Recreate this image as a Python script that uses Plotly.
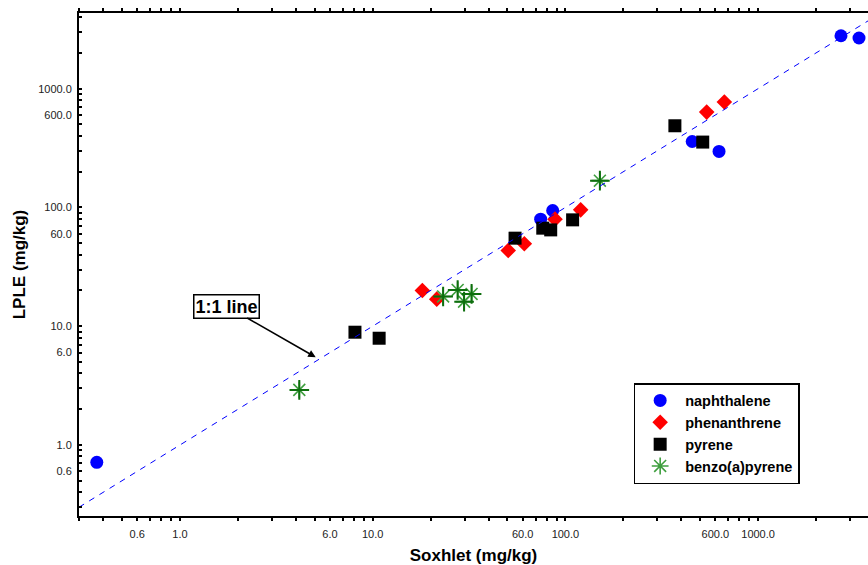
import plotly.graph_objects as go

# ---- data (mg/kg) ----
naph_sox = [0.370, 74.4, 85.9, 455, 627, 2692, 3339]
naph_lple = [0.715, 79.7, 94.2, 359, 296, 2790, 2669]

phen_sox = [18.1, 21.5, 50.5, 61.2, 88.3, 120, 541, 668]
phen_lple = [20.0, 16.9, 43.4, 49.4, 79.7, 95.4, 635, 771]

pyr_sox = [8.09, 10.8, 54.8, 76.3, 83.9, 109, 370, 516]
pyr_lple = [8.90, 7.92, 55.1, 66.9, 64.7, 78.6, 487, 355]

bap_sox = [4.16, 23.2, 27.6, 32.6, 29.8, 151]
bap_lple = [2.91, 17.8, 20.2, 18.7, 16.1, 168]

line_vals = [0.299, 3720]   # 1:1 line endpoints

series_names = ["naphthalene", "phenanthrene", "pyrene", "benzo(a)pyrene"]

tick_vals = [0.6, 1, 6, 10, 60, 100, 600, 1000]
tick_text = ["0.6", "1.0", "6.0", "10.0", "60.0", "100.0", "600.0", "1000.0"]

x_range = [-0.5241, 3.5703]
y_range = [-0.598, 3.637]

minor_vals = [m * 10 ** k for k in range(-1, 4) for m in range(1, 10)]

fig = go.Figure()
fig.add_trace(go.Scatter(x=naph_sox, y=naph_lple, mode="markers",
                         name="<b>%s</b>" % series_names[0],
                         marker=dict(symbol="circle", size=13, color="#0000ff")))
fig.add_trace(go.Scatter(x=phen_sox, y=phen_lple, mode="markers",
                         name="<b>%s</b>" % series_names[1],
                         marker=dict(symbol="diamond", size=12, color="#ff0000")))
fig.add_trace(go.Scatter(x=pyr_sox, y=pyr_lple, mode="markers",
                         name="<b>%s</b>" % series_names[2],
                         marker=dict(symbol="square", size=13, color="#000000")))
fig.add_trace(go.Scatter(x=bap_sox, y=bap_lple, mode="markers",
                         name="<b>%s</b>" % series_names[3],
                         marker=dict(symbol="asterisk-open", size=14, color="#3f9f3f",
                                     line=dict(color="#3f9f3f", width=1.6))))
fig.add_trace(go.Scatter(x=bap_sox, y=bap_lple, mode="markers", showlegend=False,
                         hoverinfo="skip",
                         marker=dict(symbol="cross-thin-open", size=14, color="#0d6e0d",
                                     line=dict(color="#0d6e0d", width=2))))
fig.add_trace(go.Scatter(x=line_vals, y=line_vals, mode="lines", showlegend=False,
                         line=dict(color="#0000ff", width=1, dash="6px,6px")))

axis_common = dict(
    type="log", showgrid=False, zeroline=False,
    showline=True, linecolor="black", linewidth=2,
    tickmode="array", tickvals=tick_vals, ticktext=tick_text,
    ticklen=3, tickwidth=1.5, tickcolor="black",
    tickfont=dict(family="Liberation Sans, Arial, sans-serif", size=11, color="#222"),
    minor=dict(tickmode="array", tickvals=minor_vals, ticklen=3, tickwidth=1.5,
               tickcolor="black", ticks="outside"),
)

fig.update_layout(
    width=868, height=565,
    margin=dict(l=79, r=0, t=13, b=49),
    paper_bgcolor="white", plot_bgcolor="white",
    font=dict(family="Liberation Sans, Arial, sans-serif", color="black"),
    xaxis=dict(**axis_common, range=x_range, ticks="outside", mirror="ticks",
               ticklabelstandoff=4,
               title=dict(text="<b>Soxhlet (mg/kg)</b>", font=dict(size=17), standoff=10)),
    yaxis=dict(**axis_common, range=y_range, ticks="inside", ticklabelstandoff=3,
               title=dict(text="<b>LPLE (mg/kg)</b>", font=dict(size=17), standoff=8)),
    showlegend=True,
    legend=dict(x=0.703, y=0.2644, xanchor="left", yanchor="top",
                bgcolor="white", bordercolor="black", borderwidth=1.5,
                font=dict(size=14.5, color="black", family="Liberation Sans, Arial, sans-serif"),
                itemwidth=40, tracegroupgap=0),
    annotations=[dict(
        x=0.7042, y=0.7388, xref="x", yref="y",
        text="<b>1:1 line</b>", showarrow=True, arrowhead=2, arrowsize=1, arrowwidth=1.5,
        arrowcolor="black", ax=-89, ay=-51,
        bordercolor="black", borderwidth=1.5, borderpad=1, bgcolor="white",
        font=dict(size=18, color="black"),
    )],
)
fig.update_yaxes(minor_ticks="inside")

fig.write_html("out.html")
